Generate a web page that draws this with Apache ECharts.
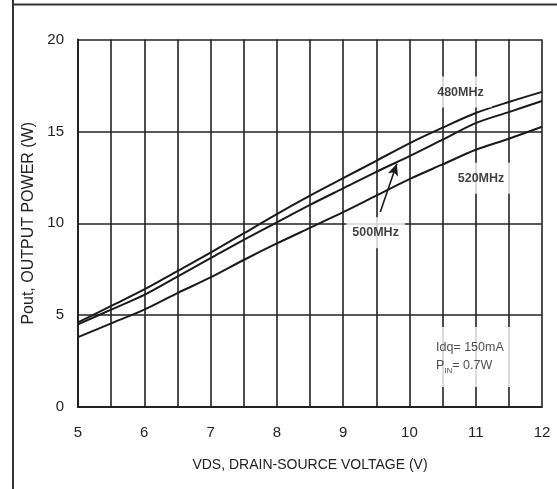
<!DOCTYPE html>
<html>
<head>
<meta charset="utf-8">
<script src="https://cdn.jsdelivr.net/npm/echarts@6/dist/echarts.min.js"></script>
<style>
html,body{margin:0;padding:0;background:#fff;}
#c{width:557px;height:489px;}
</style>
</head>
<body>
<div id="c"></div>
<script>
// Drain-source voltage (V)
const vds = [5, 5.5, 6, 6.5, 7, 7.5, 8, 8.5, 9, 9.5, 10, 10.5, 11, 11.5, 12];
// Output power (W) per frequency
const p480 = [4.6, 5.5, 6.4, 7.4, 8.4, 9.45, 10.5, 11.5, 12.45, 13.4, 14.35, 15.2, 16.0, 16.6, 17.15];
const p500 = [4.5, 5.3, 6.1, 7.1, 8.1, 9.1, 10.05, 11.0, 11.9, 12.8, 13.65, 14.55, 15.45, 16.05, 16.65];
const p520 = [3.8, 4.55, 5.3, 6.2, 7.05, 8.0, 8.9, 9.75, 10.6, 11.5, 12.4, 13.2, 14.0, 14.6, 15.25];
const yTicks = [0, 5, 10, 15, 20];
const xTicks = [5, 6, 7, 8, 9, 10, 11, 12];
// annotation anchors (data coords)
const lbl480 = [10.77, 17.14];
const lbl520 = [11.08, 12.45];
const lbl500 = [9.49, 9.48];
const arrow500 = [[9.56, 10.61], [9.81, 13.24]];
const condPos = [10.22, 2.72];

const zip = (xs, ys) => xs.map((x, i) => [x, ys[i]]);
const FONT = 'Liberation Sans, Arial, sans-serif';
const chart = echarts.init(document.getElementById('c'), null, {renderer: 'canvas'});

function tagPoint(text, pos, padX) {
  return {
    value: pos,
    label: {
      show: true, position: 'inside', formatter: text,
      fontFamily: FONT, fontWeight: 'bold', fontSize: 12.5, color: '#111',
      backgroundColor: '#fff', padding: [9, padX], letterSpacing: -0.4
    }
  };
}
const lineStyle = {color: '#1a1a1a', width: 2};
chart.setOption({
  animation: false,
  grid: {left: 78, right: 15, top: 39.5, bottom: 82, containLabel: false},
  xAxis: {
    type: 'value', min: 5, max: 12, interval: 0.5,
    name: 'VDS, DRAIN-SOURCE VOLTAGE (V)', nameLocation: 'middle', nameGap: 51,
    nameTextStyle: {fontFamily: FONT, fontSize: 14, color: '#222'},
    axisLine: {show: true, lineStyle: {color: '#222', width: 2}},
    axisTick: {show: false},
    axisLabel: {
      fontFamily: FONT, fontSize: 15, color: '#222', margin: 18,
      formatter: v => xTicks.includes(v) ? String(v) : ''
    },
    splitLine: {show: true, lineStyle: {color: '#222', width: 1.6}}
  },
  yAxis: {
    type: 'value', min: 0, max: 20, interval: 5,
    name: 'Pout, OUTPUT POWER (W)', nameLocation: 'middle', nameGap: 38,
    nameTextStyle: {fontFamily: FONT, fontSize: 16, color: '#222'},
    axisLine: {show: true, lineStyle: {color: '#222', width: 2}},
    axisTick: {show: false},
    axisLabel: {
      fontFamily: FONT, fontSize: 15, color: '#222', margin: 14,
      formatter: v => yTicks.includes(v) ? String(v) : ''
    },
    splitLine: {show: true, lineStyle: {color: '#222', width: 1.6}}
  },
  graphic: [
    {type: 'line', shape: {x1: 13, y1: 0, x2: 13, y2: 489}, style: {stroke: '#333', lineWidth: 2}},
    {type: 'line', shape: {x1: 12, y1: 4.5, x2: 557, y2: 4.5}, style: {stroke: '#333', lineWidth: 2}}
  ],
  series: [
    {name: '480MHz', type: 'line', data: zip(vds, p480), smooth: 0.3, symbol: 'none', lineStyle, z: 5},
    {name: '500MHz', type: 'line', data: zip(vds, p500), smooth: 0.3, symbol: 'none', lineStyle, z: 5,
     markLine: {
       silent: true, symbol: ['none', 'arrow'], symbolSize: [8, 12],
       lineStyle: {color: '#1a1a1a', width: 1.6, type: 'solid'},
       label: {show: false},
       data: [[{coord: arrow500[0]}, {coord: arrow500[1]}]]
     }},
    {name: '520MHz', type: 'line', data: zip(vds, p520), smooth: 0.3, symbol: 'none', lineStyle, z: 5},
    {
      name: 'labels', type: 'scatter', z: 6, silent: true,
      symbol: 'circle', symbolSize: 1, itemStyle: {color: 'rgba(0,0,0,0)'},
      data: [
        tagPoint('480MHz', lbl480, 8),
        tagPoint('500MHz', lbl500, 6),
        tagPoint('520MHz', lbl520, 6),
        {
          value: condPos,
          label: {
            show: true, position: 'inside',
            formatter: 'Idq= 150mA\n{p|P}{s|IN}{p|= 0.7W}',
            fontFamily: FONT, fontSize: 12.5, color: '#222', lineHeight: 18, align: 'left',
            backgroundColor: '#fff', padding: [12, 14, 12, 12],
            rich: {
              p: {fontFamily: FONT, fontSize: 12.5, color: '#222'},
              s: {fontFamily: FONT, fontSize: 8, color: '#222', verticalAlign: 'bottom'}
            }
          }
        }
      ]
    }
  ]
});
</script>
</body>
</html>
